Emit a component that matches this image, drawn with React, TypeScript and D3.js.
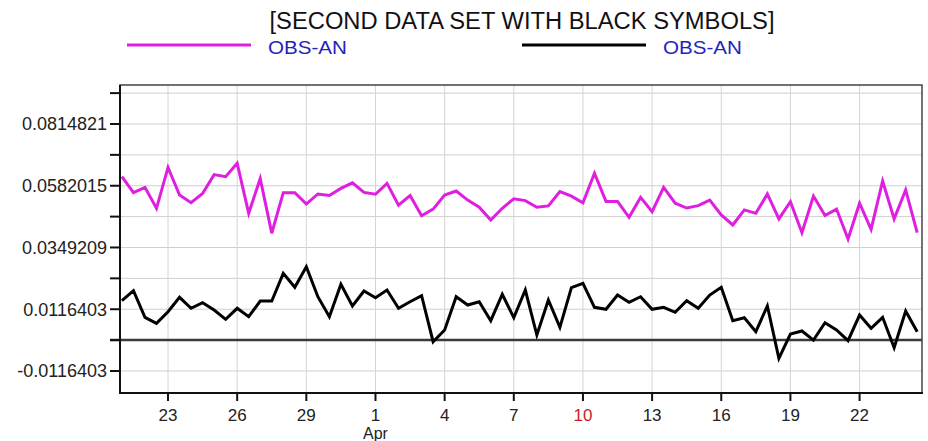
import React from "react";
import * as d3 from "d3";

// ---- data ----
const title = "[SECOND DATA SET WITH BLACK SYMBOLS]";
const seriesStart = "2021-03-21T00:00:00Z"; // 12-hourly samples
const stepHours = 12;

const pinkValues = [
  0.0616, 0.0556, 0.0576, 0.0497, 0.0651, 0.0547, 0.0518, 0.0553, 0.0624, 0.0616,
  0.0667, 0.0478, 0.0609, 0.0403, 0.0556, 0.0556, 0.0513, 0.0551, 0.0545, 0.0572,
  0.0593, 0.0557, 0.0550, 0.0591, 0.0509, 0.0545, 0.0469, 0.0494, 0.0547, 0.0562,
  0.0528, 0.0501, 0.0453, 0.0497, 0.0533, 0.0526, 0.0501, 0.0506, 0.0560, 0.0543,
  0.0518, 0.0629, 0.0523, 0.0523, 0.0463, 0.0538, 0.0484, 0.0576, 0.0516, 0.0498,
  0.0507, 0.0528, 0.0472, 0.0434, 0.0491, 0.0478, 0.0551, 0.0457, 0.0522, 0.0405,
  0.0543, 0.0470, 0.0494, 0.0381, 0.0516, 0.0418, 0.0600, 0.0457, 0.0566, 0.0405,
];

const blackValues = [
  0.01485, 0.01862, 0.0086, 0.00633, 0.01071, 0.01614, 0.01199, 0.0141, 0.01135, 0.00784,
  0.01199, 0.00882, 0.01474, 0.01474, 0.02518, 0.01991, 0.02767, 0.01636, 0.00882, 0.02104,
  0.01286, 0.01851, 0.01599, 0.01889, 0.01199, 0.01448, 0.01674, -0.0006, 0.00381, 0.01636,
  0.01323, 0.01448, 0.00731, 0.01727, 0.00845, 0.01889, 0.00192, 0.01512, 0.00483, 0.01976,
  0.02141, 0.01237, 0.01161, 0.017, 0.01425, 0.01636, 0.01161, 0.01237, 0.01048, 0.01485,
  0.01199, 0.017, 0.01991, 0.00731, 0.00845, 0.00317, 0.01286, -0.00686, 0.0023, 0.00343,
  0.0, 0.00656, 0.00381, -0.0002, 0.00946, 0.00445, 0.0086, -0.00287, 0.01097, 0.00317,
];

const legendLabels = ["OBS-AN", "OBS-AN"];
const seriesColors = ["#e01ee0", "#000000"];

const yMajorTicks = ["0.0814821", "0.0582015", "0.0349209", "0.0116403", "-0.0116403"];
const yMinorTicks = [0.0931224, 0.0698418, 0.0465612, 0.0232806, 0];

const xTickDates = [
  "2021-03-23", "2021-03-26", "2021-03-29", "2021-04-01", "2021-04-04", "2021-04-07",
  "2021-04-10", "2021-04-13", "2021-04-16", "2021-04-19", "2021-04-22",
];
const xTickLabels = ["23", "26", "29", "1", "4", "7", "10", "13", "16", "19", "22"];
const highlightedTick = "10";
const monthLabel = { at: "2021-04-01", text: "Apr" };

const xDomain = ["2021-03-20T22:00:00Z", "2021-04-24T17:00:00Z"];
const yDomain = [-0.01994, 0.09618];

// ---- layout ----
const W = 928;
const H = 441;
const plot = { left: 120, right: 922, top: 85, bottom: 393 };
const FONT = "'Liberation Sans', Arial, Helvetica, sans-serif";

export default function App() {
  const x = d3
    .scaleUtc()
    .domain(xDomain.map((d) => new Date(d)))
    .range([plot.left, plot.right]);
  const y = d3.scaleLinear().domain(yDomain).range([plot.bottom, plot.top]);

  const t0 = new Date(seriesStart);
  const dateAt = (i: number) => d3.utcHour.offset(t0, i * stepHours);

  const line = d3
    .line<number>()
    .x((_, i) => x(dateAt(i)))
    .y((v) => y(v));

  const allYTicks = [
    ...yMajorTicks.map((t) => ({ v: +t, label: t })),
    ...yMinorTicks.map((v) => ({ v, label: "" })),
  ];

  const legendX = [127, 522];
  const legendTextX = [268, 663];

  return (
    <svg width={W} height={H} style={{ display: "block", position: "absolute", left: 0, top: 0 }}>
      <rect width={W} height={H} fill="#fff" />
      {/* title */}
      <text
        x={522}
        y={29}
        textAnchor="middle"
        fontFamily={FONT}
        fontSize={23}
        fill="#111"
        textLength={505}
        lengthAdjust="spacingAndGlyphs"
      >
        {title}
      </text>
      {/* legend */}
      {legendLabels.map((lab, i) => (
        <g key={i}>
          <line
            x1={legendX[i]}
            x2={legendX[i] + 124}
            y1={45}
            y2={45}
            stroke={seriesColors[i]}
            strokeWidth={2.8}
          />
          <text
            x={legendTextX[i]}
            y={54}
            fontFamily={FONT}
            fontSize={19}
            fill="#2323b8"
            textLength={79}
            lengthAdjust="spacingAndGlyphs"
          >
            {lab}
          </text>
        </g>
      ))}

      {/* grid */}
      {allYTicks.map((t, i) => (
        <line
          key={"gy" + i}
          x1={plot.left}
          x2={plot.right}
          y1={y(t.v)}
          y2={y(t.v)}
          stroke="#cfcfcf"
          strokeWidth={1}
        />
      ))}
      {xTickDates.map((d, i) => (
        <line
          key={"gx" + i}
          x1={x(new Date(d))}
          x2={x(new Date(d))}
          y1={plot.top}
          y2={plot.bottom}
          stroke="#d4d4d4"
          strokeWidth={1}
        />
      ))}

      {/* zero line */}
      <line
        x1={plot.left - 10}
        x2={plot.right}
        y1={y(0)}
        y2={y(0)}
        stroke="#3a3a3a"
        strokeWidth={2.5}
      />

      {/* series */}
      {[pinkValues, blackValues].map((vals, i) => (
        <path
          key={"s" + i}
          d={line(vals) || ""}
          fill="none"
          stroke={seriesColors[i]}
          strokeWidth={3}
          strokeLinejoin="miter"
        />
      ))}

      {/* frame */}
      <rect
        x={plot.left}
        y={plot.top}
        width={plot.right - plot.left}
        height={plot.bottom - plot.top}
        fill="none"
        stroke="#444"
        strokeWidth={1.5}
      />
      <line x1={plot.left} x2={plot.left} y1={plot.top} y2={plot.bottom + 1} stroke="#111" strokeWidth={2} />
      <line x1={plot.left - 1} x2={plot.right + 1} y1={plot.bottom} y2={plot.bottom} stroke="#111" strokeWidth={2} />

      {/* y ticks */}
      {allYTicks.map((t, i) => (
        <g key={"yt" + i}>
          <line
            x1={plot.left - 10}
            x2={plot.left}
            y1={y(t.v)}
            y2={y(t.v)}
            stroke="#111"
            strokeWidth={2}
          />
          {t.label && (
            <text
              x={plot.left - 13}
              y={y(t.v)}
              dy="0.36em"
              textAnchor="end"
              fontFamily={FONT}
              fontSize={18}
              fill="#222"
            >
              {t.label}
            </text>
          )}
        </g>
      ))}

      {/* x ticks */}
      {xTickDates.map((d, i) => {
        const px = x(new Date(d));
        return (
          <g key={"xt" + i}>
            <line x1={px} x2={px} y1={plot.bottom} y2={plot.bottom + 8} stroke="#111" strokeWidth={2} />
            <text
              x={px}
              y={421}
              textAnchor="middle"
              fontFamily={FONT}
              fontSize={17}
              fill={xTickLabels[i] === highlightedTick ? "#c81e1e" : "#222"}
            >
              {xTickLabels[i]}
            </text>
          </g>
        );
      })}
      <text
        x={x(new Date(monthLabel.at))}
        y={439}
        textAnchor="middle"
        fontFamily={FONT}
        fontSize={16}
        fill="#222"
      >
        {monthLabel.text}
      </text>
    </svg>
  );
}
